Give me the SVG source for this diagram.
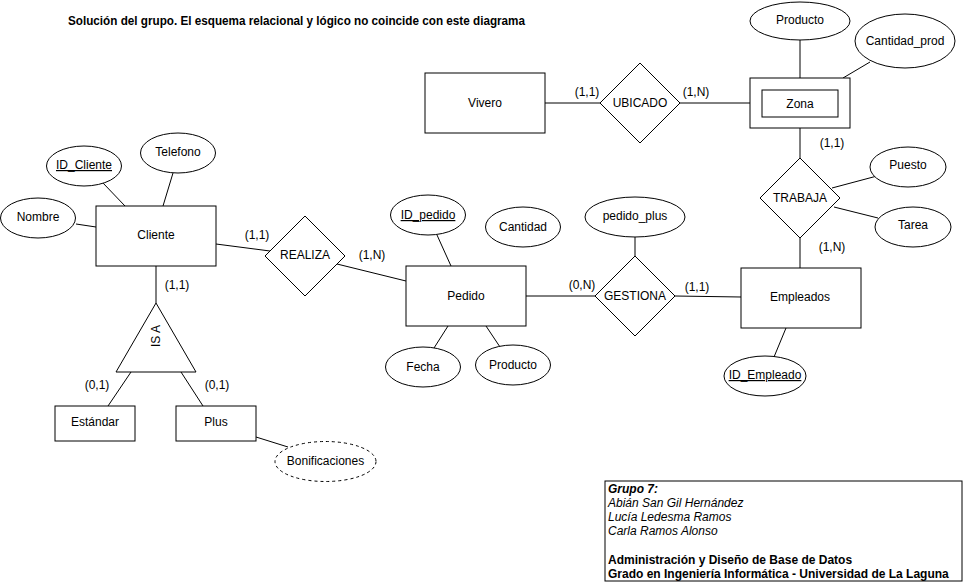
<svg xmlns="http://www.w3.org/2000/svg" width="966" height="584" viewBox="0 0 966 584">
<style>
text{font-family:"Liberation Sans",Arial,sans-serif;font-size:12px;fill:#000}
.c{text-anchor:middle}
.u{text-decoration:underline}
.b{font-weight:bold}
.i{font-style:italic}
.s{fill:#fff;stroke:#000;stroke-width:1}
.d{fill:#fff;stroke:#000;stroke-width:1;stroke-dasharray:3 3}
#connectors line{stroke:#000;stroke-width:1}
</style>
<rect width="966" height="584" fill="#fff"/>
<text x="68" y="25" class="b" textLength="457" lengthAdjust="spacingAndGlyphs">Solución del grupo. El esquema relacional y lógico no coincide con este diagrama</text>

<g id="connectors">
<line x1="545" y1="103" x2="600" y2="103"/>
<line x1="680" y1="103" x2="750" y2="103"/>
<line x1="800" y1="40" x2="800" y2="78"/>
<line x1="843" y1="78" x2="870" y2="62"/>
<line x1="800" y1="128" x2="800" y2="158"/>
<line x1="832" y1="188" x2="877" y2="176"/>
<line x1="834" y1="207" x2="878" y2="218"/>
<line x1="800" y1="238" x2="800" y2="268"/>
<line x1="786" y1="328" x2="774" y2="357"/>
<line x1="675" y1="296" x2="741" y2="297"/>
<line x1="635" y1="237" x2="635" y2="256"/>
<line x1="526" y1="296" x2="595" y2="296"/>
<line x1="451" y1="266" x2="437" y2="235"/>
<line x1="448" y1="326" x2="434" y2="348"/>
<line x1="486" y1="326" x2="500" y2="347"/>
<line x1="337" y1="264" x2="406" y2="281"/>
<line x1="216" y1="244" x2="270" y2="251"/>
<line x1="103" y1="183" x2="125" y2="206"/>
<line x1="173" y1="173" x2="163" y2="206"/>
<line x1="76" y1="224" x2="96" y2="227"/>
<line x1="156" y1="266" x2="156" y2="303"/>
<line x1="131" y1="372" x2="108" y2="406"/>
<line x1="181" y1="372" x2="203" y2="406"/>
<line x1="256" y1="437" x2="288" y2="447"/>
<text x="587" y="96" class="c">(1,1)</text>
<text x="696" y="96" class="c">(1,N)</text>
<text x="832" y="147" class="c">(1,1)</text>
<text x="832" y="251" class="c">(1,N)</text>
<text x="582" y="289" class="c">(0,N)</text>
<text x="697" y="291" class="c">(1,1)</text>
<text x="257" y="239" class="c">(1,1)</text>
<text x="372" y="259" class="c">(1,N)</text>
<text x="177" y="289" class="c">(1,1)</text>
<text x="97" y="389" class="c">(0,1)</text>
<text x="217" y="389" class="c">(0,1)</text>
</g>

<g id="vivero"><rect x="425" y="73" width="120" height="60" class="s"/><text x="485" y="107" class="c">Vivero</text></g>
<g id="ubicado"><polygon points="640,63 680,103 640,143 600,103" class="s"/><text x="640" y="107" class="c">UBICADO</text></g>
<g id="zona"><rect x="750" y="78" width="100" height="50" class="s"/><rect x="762" y="90" width="76" height="27" class="s"/><text x="800" y="108" class="c">Zona</text></g>
<g id="zona-producto"><ellipse cx="800" cy="21" rx="50" ry="19" class="s"/><text x="800" y="24" class="c">Producto</text></g>
<g id="cantidad-prod"><ellipse cx="905" cy="41" rx="50" ry="27" class="s"/><text x="905" y="45" class="c">Cantidad_prod</text></g>
<g id="trabaja"><polygon points="800,158 840,198 800,238 760,198" class="s"/><text x="800" y="202" class="c">TRABAJA</text></g>
<g id="puesto"><ellipse cx="908" cy="167" rx="38" ry="20" class="s"/><text x="908" y="169" class="c">Puesto</text></g>
<g id="tarea"><ellipse cx="913" cy="227" rx="38" ry="20" class="s"/><text x="913" y="229" class="c">Tarea</text></g>
<g id="empleados"><rect x="741" y="268" width="120" height="60" class="s"/><text x="800" y="301" class="c">Empleados</text></g>
<g id="id-empleado"><ellipse cx="765" cy="376" rx="41" ry="20" class="s"/><text x="765" y="379" class="c u">ID_Empleado</text></g>
<g id="gestiona"><polygon points="635,256 675,296 635,336 595,296" class="s"/><text x="635" y="300" class="c">GESTIONA</text></g>
<g id="pedido-plus"><ellipse cx="635" cy="217" rx="50" ry="20" class="s"/><text x="635" y="220" class="c">pedido_plus</text></g>
<g id="pedido"><rect x="406" y="266" width="120" height="60" class="s"/><text x="466" y="300" class="c">Pedido</text></g>
<g id="id-pedido"><ellipse cx="428" cy="215" rx="37.5" ry="20" class="s"/><text x="428" y="219" class="c u">ID_pedido</text></g>
<g id="cantidad"><ellipse cx="523" cy="227" rx="37.5" ry="20" class="s"/><text x="523" y="231" class="c">Cantidad</text></g>
<g id="fecha"><ellipse cx="423" cy="367" rx="37.5" ry="20" class="s"/><text x="423" y="371" class="c">Fecha</text></g>
<g id="pedido-producto"><ellipse cx="513" cy="365" rx="37.5" ry="20" class="s"/><text x="513" y="369" class="c">Producto</text></g>
<g id="realiza"><polygon points="305,216 345,256 305,296 265,256" class="s"/><text x="305" y="259" class="c">REALIZA</text></g>
<g id="cliente"><rect x="96" y="206" width="120" height="60" class="s"/><text x="156" y="239" class="c">Cliente</text></g>
<g id="id-cliente"><ellipse cx="84" cy="166" rx="37.5" ry="20" class="s"/><text x="84" y="169" class="c u">ID_Cliente</text></g>
<g id="telefono"><ellipse cx="178" cy="153" rx="37.5" ry="20" class="s"/><text x="178" y="156" class="c">Telefono</text></g>
<g id="nombre"><ellipse cx="38" cy="218" rx="37.5" ry="20" class="s"/><text x="38" y="221" class="c">Nombre</text></g>
<g id="isa"><polygon points="156,303 196,372 116,372" class="s"/><text x="0" y="0" class="c" dominant-baseline="central" transform="translate(156,336) rotate(-90)">IS A</text></g>
<g id="estandar"><rect x="55" y="406" width="80" height="35" class="s"/><text x="95" y="426" class="c">Estándar</text></g>
<g id="plus"><rect x="176" y="406" width="80" height="35" class="s"/><text x="216" y="426" class="c">Plus</text></g>
<g id="bonificaciones"><ellipse cx="325.5" cy="461.5" rx="50.5" ry="20" class="d"/><text x="325.5" y="465" class="c">Bonificaciones</text></g>

<g id="info">
<rect x="605" y="481" width="357" height="100" class="s"/>
<text x="608" y="493" class="b i">Grupo 7:</text>
<text x="608" y="507" class="i">Abián San Gil Hernández</text>
<text x="608" y="521" class="i">Lucía Ledesma Ramos</text>
<text x="608" y="535" class="i">Carla Ramos Alonso</text>
<text x="608" y="564" class="b">Administración y Diseño de Base de Datos</text>
<text x="608" y="578" class="b">Grado en Ingeniería Informática - Universidad de La Laguna</text>
</g>
</svg>
